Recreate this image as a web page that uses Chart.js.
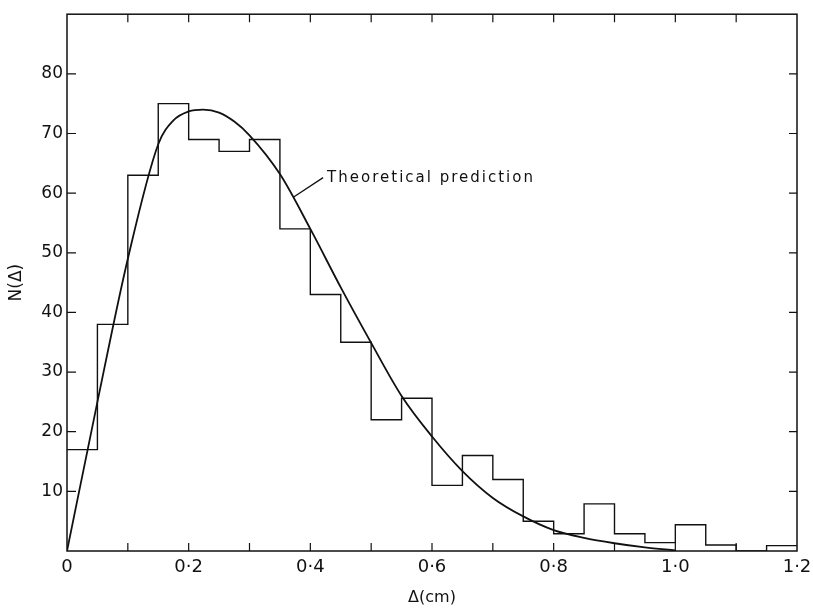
<!DOCTYPE html>
<html>
<head>
<meta charset="utf-8">
<script src="https://cdn.jsdelivr.net/npm/chart.js@4"></script>
<style>
  html, body { margin: 0; padding: 0; background: #fff; }
  #wrap { width: 813px; height: 609px; }
</style>
</head>
<body>
<div id="wrap"><canvas id="chart"></canvas></div>
<script>
// histogram bins (left edges, width 0.05) and counts
const binEdges = [0, 0.05, 0.1, 0.15, 0.2, 0.25, 0.3, 0.35, 0.4, 0.45, 0.5, 0.55,
                  0.6, 0.65, 0.7, 0.75, 0.8, 0.85, 0.9, 0.95, 1.0, 1.05, 1.1, 1.15, 1.2];
const counts = [17, 38, 63, 75, 69, 67, 69, 54, 43, 35, 22, 25.6,
                11, 16, 12, 5, 2.9, 7.9, 2.9, 1.4, 4.4, 1, 0, 0.9];

// theoretical curve
const curveX = [0, 0.05, 0.1, 0.15, 0.175, 0.2, 0.224, 0.25, 0.275, 0.3, 0.35, 0.4, 0.45, 0.5, 0.55,
                0.6, 0.65, 0.7, 0.75, 0.8, 0.85, 0.9, 0.95, 1.0];
const curveY = [0, 25, 49, 68.2, 72.2, 73.7, 74, 73.5, 72, 69.7, 63.2, 54, 44.2, 34.9, 26,
                19.2, 13.4, 8.9, 5.8, 3.5, 2.2, 1.3, 0.6, 0.1];

const yTicks = [10, 20, 30, 40, 50, 60, 70, 80];
const curveLabel = 'Theoretical prediction';

// last count is repeated so the step reaches the right edge
const histPoints = binEdges.map((e, i) => ({ x: e, y: i < counts.length ? counts[i] : counts[counts.length - 1] }));
const curvePoints = curveX.map((v, i) => ({ x: v, y: curveY[i] }));

const ink = '#111';
const fmt = v => {
  const r = Math.round(v * 10) / 10;
  return r === 0 ? '0' : r.toFixed(1).replace('.', '\u00b7');
};

const frame = {
  id: 'frame',
  afterDatasetsDraw(chart) {
    const { ctx, chartArea: a, scales: { x, y } } = chart;
    ctx.save();
    ctx.strokeStyle = ink;
    ctx.lineWidth = 1.5;
    ctx.strokeRect(a.left, a.top, a.right - a.left, a.bottom - a.top);
    ctx.lineWidth = 1.2;
    ctx.beginPath();
    x.ticks.forEach(t => {
      const px = x.getPixelForValue(t.value);
      if (px <= a.left + 1 || px >= a.right - 1) return;
      ctx.moveTo(px, a.bottom); ctx.lineTo(px, a.bottom - 8);
      ctx.moveTo(px, a.top); ctx.lineTo(px, a.top + 8);
    });
    y.ticks.forEach(t => {
      const py = y.getPixelForValue(t.value);
      if (py >= a.bottom - 1 || py <= a.top + 1) return;
      ctx.moveTo(a.left, py); ctx.lineTo(a.left + 9, py);
      ctx.moveTo(a.right, py); ctx.lineTo(a.right - 8, py);
    });
    ctx.stroke();

    // leader line + label for the curve
    const x0 = x.getPixelForValue(0.372), y0 = y.getPixelForValue(59.3);
    const x1 = x.getPixelForValue(0.421), y1 = y.getPixelForValue(62.6);
    ctx.lineWidth = 1.3;
    ctx.beginPath();
    ctx.moveTo(x0, y0); ctx.lineTo(x1, y1);
    ctx.stroke();
    ctx.fillStyle = ink;
    ctx.font = '15px "DejaVu Sans"';
    ctx.letterSpacing = '2px';
    ctx.textBaseline = 'middle';
    ctx.fillText(curveLabel, x1 + 4, y1);
    ctx.restore();
  }
};

new Chart(document.getElementById('chart'), {
  type: 'line',
  data: {
    datasets: [
      {
        label: 'N',
        data: histPoints,
        stepped: true,
        borderColor: ink,
        borderWidth: 1.4,
        pointRadius: 0,
        fill: false
      },
      {
        label: curveLabel,
        data: curvePoints,
        cubicInterpolationMode: 'monotone',
        borderColor: ink,
        borderWidth: 1.8,
        pointRadius: 0,
        fill: false
      }
    ]
  },
  options: {
    responsive: true,
    maintainAspectRatio: false,
    animation: false,
    layout: { padding: { left: 0, right: 16, top: 6, bottom: 0 } },
    plugins: { legend: { display: false }, tooltip: { enabled: false } },
    scales: {
      x: {
        type: 'linear',
        min: 0,
        max: 1.2,
        afterFit(s) { s.height = 58; s.paddingRight = 0; s.paddingLeft = 0; },
        grid: { display: false, drawTicks: false },
        border: { display: false },
        ticks: {
          stepSize: 0.1,
          maxRotation: 0,
          autoSkip: false,
          padding: 6,
          color: ink,
          font: { family: 'DejaVu Sans', size: 18 },
          callback: v => (Math.round(v * 10) % 2 === 0 ? fmt(v) : '')
        },
        title: {
          display: true,
          text: '\u0394(cm)',
          color: ink,
          font: { family: 'DejaVu Sans', size: 16 },
          padding: { top: 0, bottom: 2 }
        }
      },
      y: {
        min: 0,
        max: 90,
        afterFit(s) { s.width = 67; },
        grid: { display: false, drawTicks: false },
        border: { display: false },
        ticks: {
          stepSize: 10,
          padding: 4,
          color: ink,
          font: { family: 'DejaVu Sans', size: 17 },
          callback: v => (yTicks.includes(v) ? String(v) : '')
        },
        title: {
          display: true,
          text: 'N(\u0394)',
          color: ink,
          font: { family: 'DejaVu Sans', size: 17 },
          padding: { top: 6, bottom: 0 }
        }
      }
    }
  },
  plugins: [frame]
});
</script>
</body>
</html>
